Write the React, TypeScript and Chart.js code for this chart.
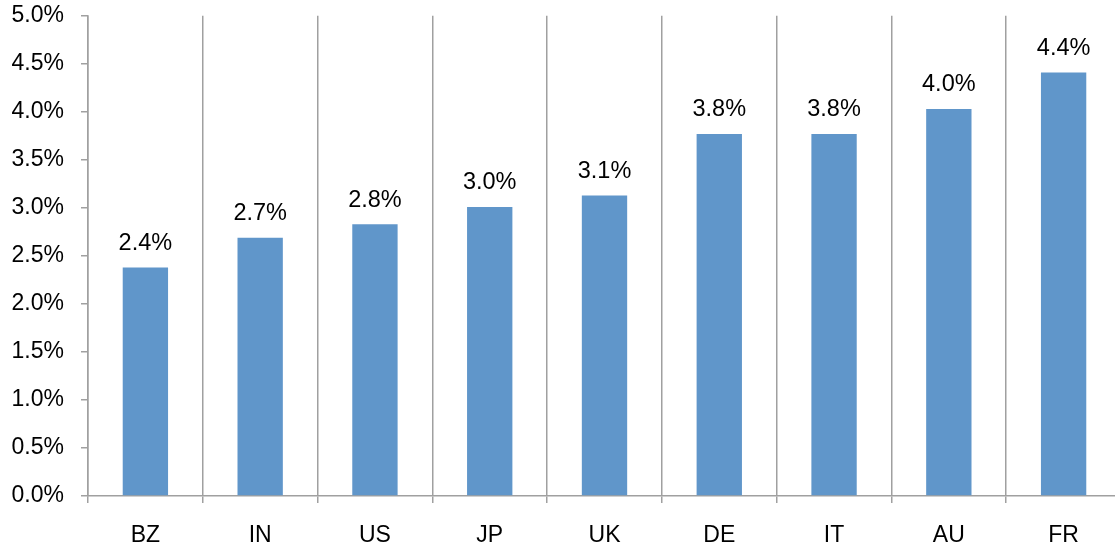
import React, { useEffect, useRef } from "react";
import { Chart, registerables } from "chart.js";

Chart.register(...registerables);

const categories = ["BZ", "IN", "US", "JP", "UK", "DE", "IT", "AU", "FR"];
const values = [2.38, 2.69, 2.83, 3.01, 3.13, 3.77, 3.77, 4.03, 4.41];
const labels = ["2.4%", "2.7%", "2.8%", "3.0%", "3.1%", "3.8%", "3.8%", "4.0%", "4.4%"];

const FONT = "'Liberation Sans', Arial, sans-serif";
const GRID = "#a0a0a0";

const labelPlugin = {
  id: "barLabels",
  afterDatasetsDraw(chart: any) {
    const ctx = chart.ctx;
    const meta = chart.getDatasetMeta(0);
    ctx.save();
    ctx.font = `23.5px ${FONT}`;
    ctx.fillStyle = "#000";
    ctx.textAlign = "center";
    ctx.textBaseline = "middle";
    meta.data.forEach((bar: any, i: number) => {
      ctx.fillText(labels[i], bar.x, bar.y - 24);
    });
    ctx.restore();
  },
};

export default function App() {
  const ref = useRef<HTMLCanvasElement>(null);
  useEffect(() => {
    document.body.style.margin = "0";
    const chart = new Chart(ref.current!, {
      type: "bar",
      data: {
        labels: categories,
        datasets: [
          {
            data: values,
            backgroundColor: "rgb(96,150,202)",
            barPercentage: 0.395,
            categoryPercentage: 1,
          },
        ],
      },
      plugins: [labelPlugin],
      options: {
        animation: false,
        responsive: false,
        devicePixelRatio: 1,
        layout: { padding: { top: 2, right: 0, left: 0, bottom: 0 } },
        plugins: { legend: { display: false }, tooltip: { enabled: false } },
        scales: {
          x: {
            offset: true,
            grid: {
              offset: true,
              color: GRID,
              lineWidth: 1.5,
              tickLength: 7,
              drawOnChartArea: true,
            },
            border: { color: GRID, width: 1.5 },
            ticks: {
              color: "#000",
              font: { family: FONT, size: 23 },
              padding: 19,
            },
            afterFit(scale: any) {
              scale.height = 51;
            },
          },
          y: {
            min: 0,
            max: 5,
            grid: {
              drawOnChartArea: false,
              color: GRID,
              lineWidth: 1.5,
              tickLength: 7,
            },
            border: { color: GRID, width: 1.5 },
            ticks: {
              stepSize: 0.5,
              color: "#000",
              font: { family: FONT, size: 23 },
              padding: 17,
              callback: (v: any) => Number(v).toFixed(1) + "%",
            },
            afterFit(scale: any) {
              scale.width = 88;
            },
          },
        },
      },
    });
    return () => chart.destroy();
  }, []);
  return (
    <div style={{ position: "absolute", left: 0, top: 0, width: 1115, height: 547, overflow: "hidden", background: "#fff" }}>
      <canvas ref={ref} width={1121} height={562} style={{ position: "absolute", left: 0, top: -15, width: 1121, height: 562 }} />
    </div>
  );
}
